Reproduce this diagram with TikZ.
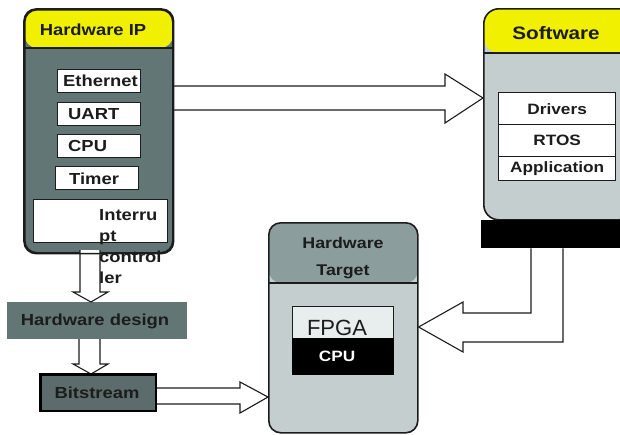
\documentclass[tikz,border=0pt]{standalone}
\usepackage{fontspec}
\newfontfamily\bx{Liberation Sans}[FakeStretch=1.15]
\newfontfamily\rg{Liberation Sans}
\usetikzlibrary{calc}
\definecolor{hwgray}{RGB}{98,118,118}
\definecolor{bsgray}{RGB}{92,108,108}
\definecolor{ltgray}{RGB}{196,206,206}
\definecolor{midgray}{RGB}{140,157,157}
\definecolor{ylw}{RGB}{240,240,0}
\definecolor{ink}{RGB}{28,28,28}
\definecolor{fpgabg}{RGB}{232,237,237}
\begin{document}
\begin{tikzpicture}[x=1pt,y=-1pt,
  lbl/.style={font=\bx\bfseries\fontsize{16}{18}\selectfont, text=ink, inner sep=0},
  big/.style={draw=ink, line width=1.6, rounded corners=#1, inner sep=0, anchor=north west},
  item/.style={draw=ink, line width=1.3, fill=white, inner sep=0, anchor=north west},
  blk/.style={draw=ink, line width=1.1, fill=white, line join=miter},
  hdr/.style 2 args={path picture={
     \fill[#1] (path picture bounding box.north west) rectangle ([yshift=-#2 pt]path picture bounding box.north east);
     \draw[ink, line width=1.6] ([yshift=-#2 pt]path picture bounding box.north west) -- ([yshift=-#2 pt]path picture bounding box.north east);}}
]
\useasboundingbox (0,0) rectangle (620,434);
\fill[white] (0,0) rectangle (620,434);

% ---------- boxes (named) ----------
\path node[big=12, fill=hwgray, minimum width=148, minimum height=243, hdr={ylw}{38}] (hwip) at (24,9) {};
\path node[big=15, fill=ltgray, minimum width=150, minimum height=211, hdr={ylw}{44}] (sw) at (483,8) {};
\path node[big=12, fill=ltgray, minimum width=149, minimum height=210, hdr={midgray}{60}] (tgt) at (268,222) {};
\node[fill=hwgray, inner sep=0, anchor=north west, minimum width=180, minimum height=37] (hwd) at (7,302) {};
\node[draw=black, line width=1.5, fill=bsgray, inner sep=0, anchor=north west, minimum width=115, minimum height=36] (bits) at (40,374) {};
\node[fill=black, inner sep=0, anchor=north west, minimum width=145, minimum height=28] (bar) at (481,220) {};

% ---------- block arrows ----------
\draw[blk] (hwip.east |- 0,86) -- (445,86) -- (445,74) -- (sw.west |- 0,98) -- (445,123) -- (445,110) -- (hwip.east |- 0,110);
\draw[blk] (80,250) -- (80,292) -- (73,292) -- (hwd.north -| 91,0) -- (108,292) -- (100,292) -- (100,250);
\draw[blk] (79,339) -- (79,364) -- (73,364) -- (bits.north -| 91,0) -- (108,364) -- (100,364) -- (100,339);
\draw[blk] (bits.east |- 0,388) -- (240,388) -- (240,382) -- (tgt.west |- 0,397) -- (240,413) -- (240,404) -- (bits.east |- 0,404);
\draw[blk] (bar.south -| 563,0) -- (563,342) -- (463,342) -- (463,352) -- (tgt.east |- 0,327) -- (463,302) -- (463,313) -- (531,313) -- (bar.south -| 531,0);

% redraw borders over arrow starts
\draw[ink, line width=1.6, rounded corners=12] (hwip.north west) rectangle (hwip.south east);
\draw[black, line width=1.5] (bits.north west) rectangle (bits.south east);
\fill[black] (bar.north west) rectangle (bar.south east);

% ---------- Hardware IP contents ----------
\node[lbl] (hwipt) at (93,30) {Hardware IP};
\node[item, minimum width=83, minimum height=23] (eth) at (57,69) {};
\node[item, minimum width=83, minimum height=23] (uart) at (57,102) {};
\node[item, minimum width=83, minimum height=23] (cpu1) at (57,134) {};
\node[item, minimum width=83, minimum height=23] (tim) at (55,166) {};
\node[item, minimum width=134, minimum height=43] (irq) at (33,199) {};
\node[lbl, anchor=base west] (etht) at (63,86) {Ethernet};
\node[lbl, anchor=base west] (uartt) at (68,119) {UART};
\node[lbl, anchor=base west] (cput) at (68,151) {CPU};
\node[lbl, anchor=base west] (timt) at (69,184) {Timer};
\node[lbl, anchor=base west] (irq1) at (99,220) {Interru};
\node[lbl, anchor=base west] (irq2) at (99,241) {pt};
\node[lbl, anchor=base west] (irq3) at (99,262) {control};
\node[lbl, anchor=base west] (irq4) at (99,283) {ler};

% ---------- Software contents ----------
\node[lbl, font=\bx\bfseries\fontsize{18}{20}\selectfont] (swt) at (556,33) {Software};
\node[item, minimum width=117, minimum height=32] (drv) at (498,92) {};
\node[item, minimum width=117, minimum height=32] (rtos) at (498,124) {};
\node[item, minimum width=117, minimum height=24] (app) at (498,156) {};
\node[lbl, font=\bx\bfseries\fontsize{15}{17}\selectfont] at (drv) {Drivers};
\node[lbl, font=\bx\bfseries\fontsize{15}{17}\selectfont] at (rtos) {RTOS};
\node[lbl, font=\bx\bfseries\fontsize{15}{17}\selectfont] at (app) {Application};

% ---------- Hardware Target contents ----------
\node[lbl, font=\bx\bfseries\fontsize{15.5}{17}\selectfont, anchor=base] (tgt1) at (343,248) {Hardware};
\node[lbl, font=\bx\bfseries\fontsize{15.5}{17}\selectfont, anchor=base] (tgt2) at (343,275) {Target};
\node[item, fill=fpgabg, minimum width=101, minimum height=32] (fpga) at (292,306) {};
\node[item, fill=black, draw=black, minimum width=101, minimum height=36] (cpu2) at (292,338) {};
\node[font=\rg\fontsize{22}{24}\selectfont, text=ink, inner sep=0, anchor=base] (fpgat) at (337,335) {FPGA};
\node[lbl, text=white, font=\bx\bfseries\fontsize{15}{17}\selectfont] (cpu2t) at (337,356) {CPU};

% ---------- bottom-left labels ----------
\node[lbl] (hwdt) at (95,321) {Hardware design};
\node[lbl] (bitst) at (97,393) {Bitstream};
\end{tikzpicture}
\end{document}
